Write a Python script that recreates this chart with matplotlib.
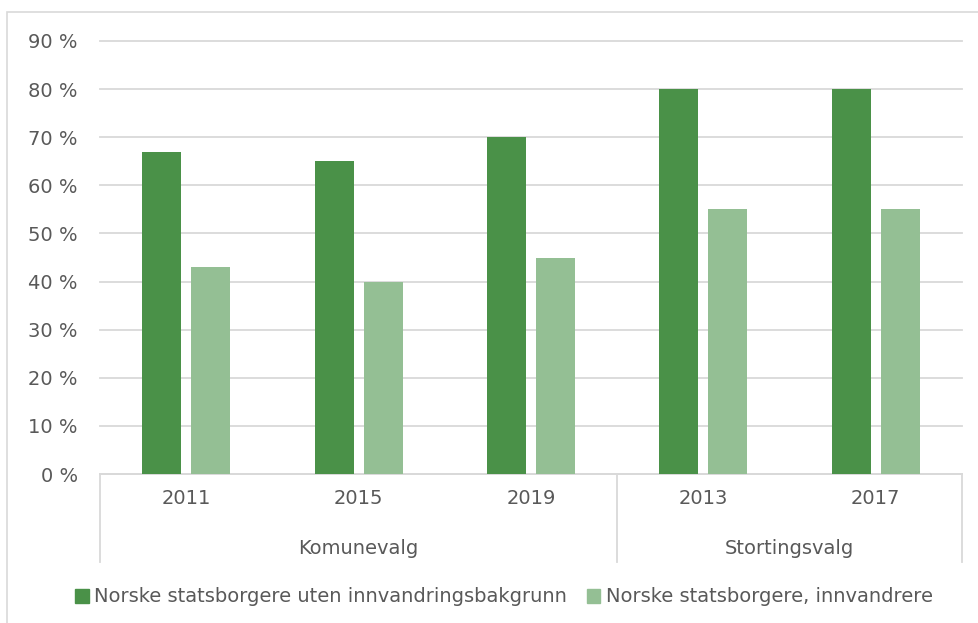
import matplotlib
matplotlib.use("Agg")
import matplotlib.pyplot as plt
from matplotlib.patches import Rectangle, Patch
import numpy as np

# --- data ---
years = ["2011", "2015", "2019", "2013", "2017"]
groups = ["Komunevalg", "Stortingsvalg"]
group_sizes = [3, 2]
uten_bakgrunn = [67, 65, 70, 80, 80]
innvandrere = [43, 40, 45, 55, 55]
series_names = ["Norske statsborgere uten innvandringsbakgrunn",
                "Norske statsborgere, innvandrere"]

DARK = "#4a9148"
LIGHT = "#94bf94"
TEXT = "#595959"
GRID = "#d9d9d9"
FS = 14

W, H = 979, 623
fig = plt.figure(figsize=(W / 100, H / 100), dpi=100)

# outer chart frame
fig.patches.append(Rectangle((7 / W, -0.1), 1.2, 1 - 12 / H + 0.1,
                             transform=fig.transFigure, fill=False,
                             edgecolor=GRID, linewidth=1.2))

# plot area in pixels
left, right, top, bottom = 100, 962, 41, 474
ax = fig.add_axes([left / W, 1 - bottom / H, (right - left) / W, (bottom - top) / H])

x = np.arange(len(years))
bw = 0.226
off = 0.142
ax.bar(x - off, uten_bakgrunn, bw, color=DARK, zorder=3)
ax.bar(x + off, innvandrere, bw, color=LIGHT, zorder=3)

ax.set_xlim(-0.5, len(years) - 0.5)
ax.set_ylim(0, 90)
ax.set_yticks(range(0, 91, 10))
ax.set_yticklabels([f"{v} %" for v in range(0, 91, 10)])
ax.yaxis.grid(True, color=GRID, linewidth=1.3, zorder=0)
for gl in ax.get_ygridlines():
    gl.set_clip_on(False)
ax.tick_params(axis="y", length=0, pad=16, labelsize=FS, labelcolor=TEXT)

ax.set_xticks(x)
ax.set_xticklabels(years)
ax.tick_params(axis="x", length=0, pad=11, labelsize=FS, labelcolor=TEXT)

for s in ["top", "right", "left"]:
    ax.spines[s].set_visible(False)
ax.spines["bottom"].set_color(GRID)
ax.spines["bottom"].set_linewidth(1.3)

# two-level category axis: separators and group labels
depth = (562 - bottom) / (bottom - top)
edges = np.concatenate([[0], np.cumsum(group_sizes)]) - 0.5
for e in edges:
    ax.plot([e, e], [0, -depth], color=GRID, linewidth=1.3,
            transform=ax.get_xaxis_transform(), clip_on=False)
for g, a, b in zip(groups, edges[:-1], edges[1:]):
    ax.text((a + b) / 2, -(548 - bottom) / (bottom - top), g,
            transform=ax.get_xaxis_transform(), ha="center", va="center",
            fontsize=FS, color=TEXT)

handles = [Patch(color=DARK), Patch(color=LIGHT)]
fig.legend(handles, series_names, loc="center", ncol=2,
           bbox_to_anchor=(504 / W, 1 - 597 / H), frameon=False,
           fontsize=FS, labelcolor=TEXT, handlelength=0.7,
           handleheight=0.7, handletextpad=0.3, columnspacing=1.0)

fig.savefig("out.png", dpi=100)
